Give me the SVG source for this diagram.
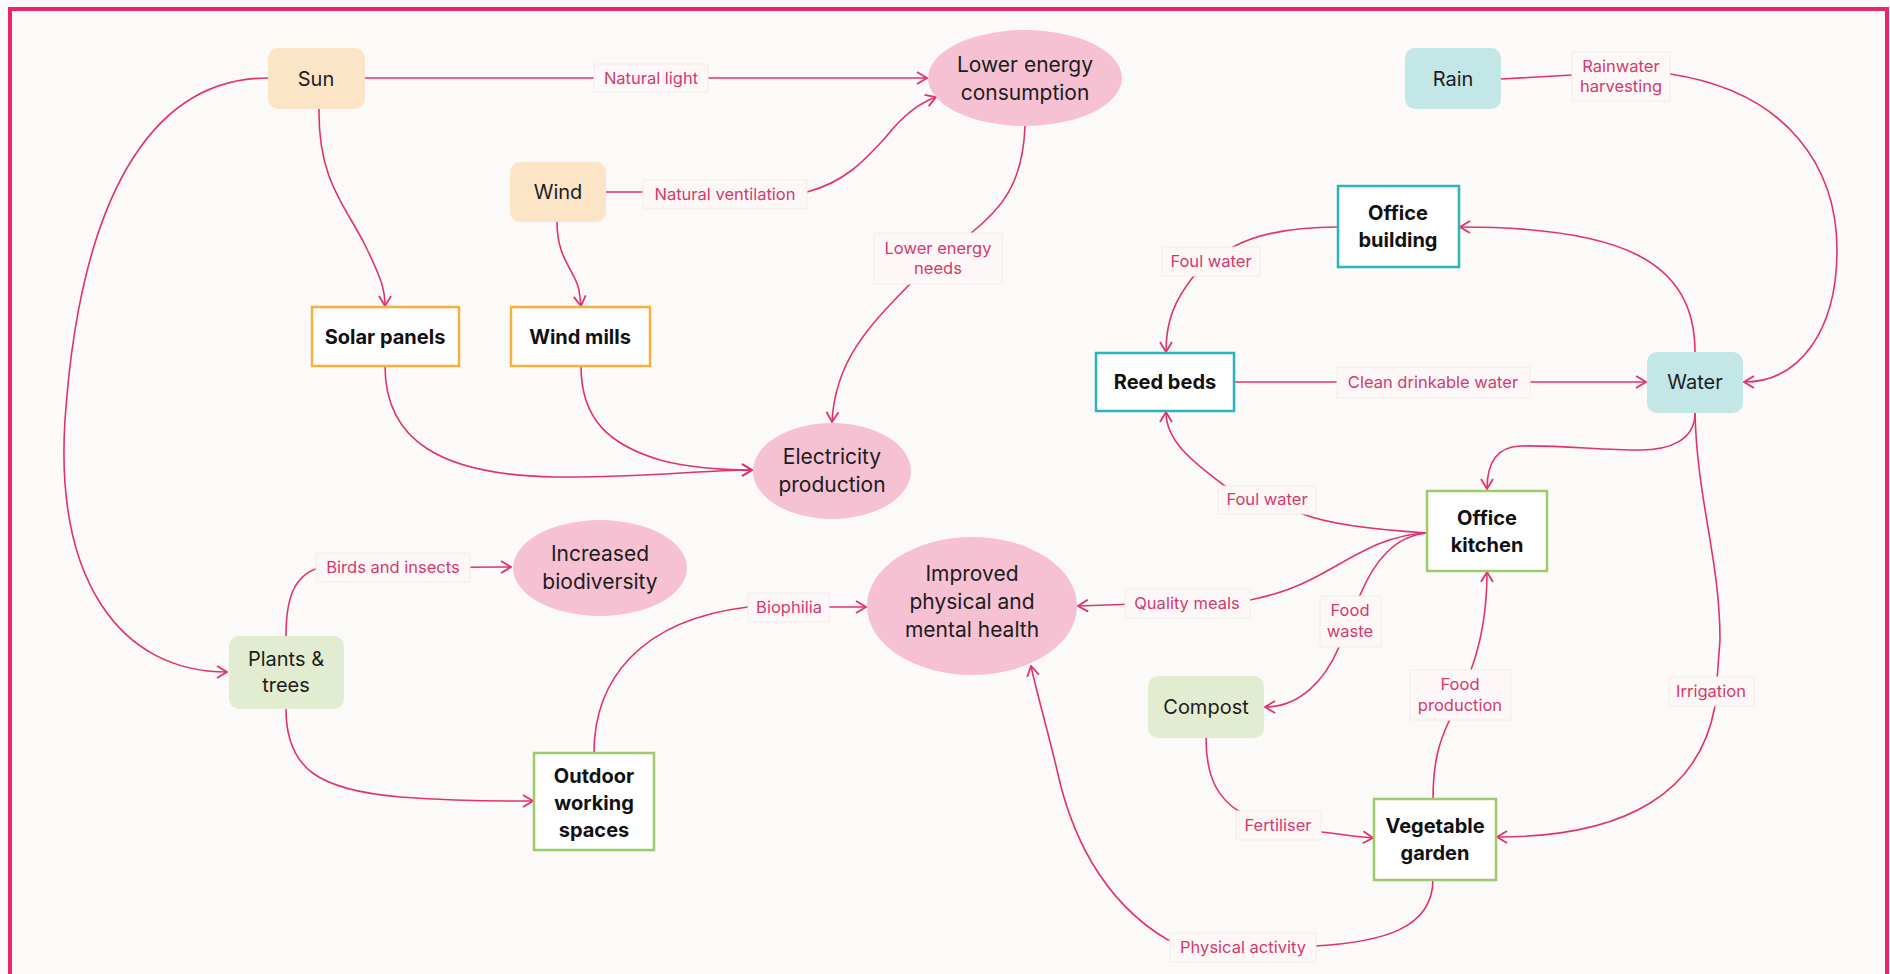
<svg xmlns="http://www.w3.org/2000/svg" width="1890" height="974" viewBox="0 0 1890 974">
<defs>
<style>
.bg{fill:#fcfaf9}
.frame{fill:none;stroke:#e8266a;stroke-width:4}
.c{fill:none;stroke:#e0336d;stroke-width:1.6}
.warm{fill:#fce4c7}
.blue{fill:#c3e6e7}
.green{fill:#e2ecd1}
.ell{fill:#f6c1d3}
.bo{fill:#ffffff;stroke:#f5b03e;stroke-width:2.5}
.bt{fill:#ffffff;stroke:#2bb3c0;stroke-width:2.5}
.bg2{fill:#ffffff;stroke:#9ccb6b;stroke-width:2.5}
.t{font-family:Inter,"Liberation Sans",sans-serif;font-size:20px;fill:#1c1c1c;text-anchor:middle;dominant-baseline:central}
.te{font-family:Inter,"Liberation Sans",sans-serif;font-size:21px;fill:#1c1c1c;text-anchor:middle;dominant-baseline:central}
.tb{font-family:Inter,"Liberation Sans",sans-serif;font-size:20px;font-weight:700;fill:#111111;text-anchor:middle;dominant-baseline:central}
.lb{fill:#fdf8f7;stroke:#f1ebea;stroke-width:1}
.lt{font-family:Inter,"Liberation Sans",sans-serif;font-size:16.5px;fill:#d33a6e;text-anchor:middle;dominant-baseline:central}
</style>
<marker id="arr" viewBox="0 0 12 14" refX="11" refY="7" markerWidth="12" markerHeight="14" markerUnits="userSpaceOnUse" orient="auto">
<path d="M1,1 L11,7 L1,13" fill="none" stroke="#e0336d" stroke-width="1.8"/>
</marker>
</defs>
<rect class="bg" x="0" y="0" width="1890" height="974"/>
<rect class="frame" x="10" y="9" width="1877" height="1000"/>

<g id="connectors">
<path class="c" d="M365,78 L927,78" marker-end="url(#arr)"/>
<path class="c" d="M319,109 C318,180 345,205 365,245 C382,280 385,290 385,306" marker-end="url(#arr)"/>
<path class="c" d="M268,78 C150,78 80,200 65,420 C55,580 120,672 227,672" marker-end="url(#arr)"/>
<path class="c" d="M606,192 L807,192 C845,182 865,160 885,138 C905,113 920,103 936,97" marker-end="url(#arr)"/>
<path class="c" d="M557,222 C557,260 575,270 579,290 L581,306" marker-end="url(#arr)"/>
<path class="c" d="M1025,126 C1023,185 1000,210 970,234 L910,284 C870,325 835,360 832,422" marker-end="url(#arr)"/>
<path class="c" d="M385,366 C385,440 440,475 555,477 C640,478 700,470 752,470" marker-end="url(#arr)"/>
<path class="c" d="M581,366 C581,420 610,445 660,460 C690,468 720,470 752,470" marker-end="url(#arr)"/>
<path class="c" d="M286,636 C286,598 294,576 318,568 L511,567" marker-end="url(#arr)"/>
<path class="c" d="M286,709 C286,770 320,790 400,797 C470,802 500,801 533,801" marker-end="url(#arr)"/>
<path class="c" d="M594,753 C594,680 640,620 748,607 L866,607" marker-end="url(#arr)"/>
<path class="c" d="M1338,227 C1290,227 1255,235 1233,247 L1193,277 C1175,300 1166,320 1166,352" marker-end="url(#arr)"/>
<path class="c" d="M1234,382 L1646,382" marker-end="url(#arr)"/>
<path class="c" d="M1695,352 C1695,260 1620,227 1460,227" marker-end="url(#arr)"/>
<path class="c" d="M1501,79 L1572,75 L1670,74 C1790,92 1837,170 1837,250 C1837,330 1800,382 1744,382" marker-end="url(#arr)"/>
<path class="c" d="M1695,413 C1695,440 1670,450 1640,450 C1600,450 1560,445 1520,446 C1495,447 1487,465 1487,489" marker-end="url(#arr)"/>
<path class="c" d="M1695,413 C1697,500 1720,560 1720,640 L1715,706 C1700,790 1630,837 1497,837" marker-end="url(#arr)"/>
<path class="c" d="M1427,533 C1380,530 1330,525 1303,514 L1225,486 C1190,460 1166,440 1166,412" marker-end="url(#arr)"/>
<path class="c" d="M1427,533 C1380,535 1350,560 1310,580 C1290,590 1270,596 1250,600 L1078,606" marker-end="url(#arr)"/>
<path class="c" d="M1427,533 C1395,536 1375,560 1360,595 L1339,647 C1325,680 1300,707 1265,707" marker-end="url(#arr)"/>
<path class="c" d="M1433,799 C1433,760 1440,740 1450,719 L1471,670 C1482,640 1487,610 1487,572" marker-end="url(#arr)"/>
<path class="c" d="M1206,738 C1206,780 1220,800 1240,812 L1322,832 C1345,835 1360,837 1373,838" marker-end="url(#arr)"/>
<path class="c" d="M1433,879 C1433,930 1380,942 1316,946 L1168,940 C1100,900 1070,830 1057,770 C1045,720 1036,690 1031,666" marker-end="url(#arr)"/>
</g>

<g id="labels">
<g id="lbl-natural-light"><rect class="lb" x="594" y="64" width="114" height="28"/><text class="lt" x="651" y="78">Natural light</text></g>
<g id="lbl-natural-ventilation"><rect class="lb" x="643" y="180" width="164" height="29"/><text class="lt" x="725" y="194">Natural ventilation</text></g>
<g id="lbl-lower-energy-needs"><rect class="lb" x="874" y="233" width="128" height="51"/><text class="lt" x="938" y="248">Lower energy</text><text class="lt" x="938" y="268">needs</text></g>
<g id="lbl-rainwater"><rect class="lb" x="1572" y="52" width="98" height="49"/><text class="lt" x="1621" y="66">Rainwater</text><text class="lt" x="1621" y="86">harvesting</text></g>
<g id="lbl-foul-water-1"><rect class="lb" x="1162" y="247" width="98" height="29"/><text class="lt" x="1211" y="261">Foul water</text></g>
<g id="lbl-clean-water"><rect class="lb" x="1337" y="367" width="193" height="31"/><text class="lt" x="1433" y="382">Clean drinkable water</text></g>
<g id="lbl-foul-water-2"><rect class="lb" x="1218" y="486" width="98" height="28"/><text class="lt" x="1267" y="499">Foul water</text></g>
<g id="lbl-quality-meals"><rect class="lb" x="1125" y="589" width="125" height="29"/><text class="lt" x="1187" y="603">Quality meals</text></g>
<g id="lbl-food-waste"><rect class="lb" x="1320" y="596" width="61" height="51"/><text class="lt" x="1350" y="610">Food</text><text class="lt" x="1350" y="631">waste</text></g>
<g id="lbl-birds"><rect class="lb" x="316" y="553" width="154" height="29"/><text class="lt" x="393" y="567">Birds and insects</text></g>
<g id="lbl-biophilia"><rect class="lb" x="748" y="593" width="81" height="29"/><text class="lt" x="789" y="607">Biophilia</text></g>
<g id="lbl-food-production"><rect class="lb" x="1410" y="670" width="101" height="50"/><text class="lt" x="1460" y="684">Food</text><text class="lt" x="1460" y="705">production</text></g>
<g id="lbl-irrigation"><rect class="lb" x="1669" y="677" width="85" height="29"/><text class="lt" x="1711" y="691">Irrigation</text></g>
<g id="lbl-fertiliser"><rect class="lb" x="1236" y="811" width="85" height="29"/><text class="lt" x="1278" y="825">Fertiliser</text></g>
<g id="lbl-physical-activity"><rect class="lb" x="1170" y="933" width="146" height="29"/><text class="lt" x="1243" y="947">Physical activity</text></g>
</g>

<g id="node-sun"><rect class="warm" x="268" y="48" width="97" height="61" rx="10"/><text class="t" x="316" y="79">Sun</text></g>
<g id="node-wind"><rect class="warm" x="510" y="162" width="96" height="60" rx="10"/><text class="t" x="558" y="192">Wind</text></g>
<g id="node-solar"><rect class="bo" x="312" y="307" width="147" height="59"/><text class="tb" x="385" y="337">Solar panels</text></g>
<g id="node-windmills"><rect class="bo" x="511" y="307" width="139" height="59"/><text class="tb" x="580" y="337">Wind mills</text></g>
<g id="node-lower-energy"><ellipse class="ell" cx="1025" cy="78" rx="97" ry="48"/><text class="te" x="1025" y="64">Lower energy</text><text class="te" x="1025" y="92">consumption</text></g>
<g id="node-electricity"><ellipse class="ell" cx="832" cy="471" rx="79" ry="48"/><text class="te" x="832" y="456">Electricity</text><text class="te" x="832" y="484">production</text></g>
<g id="node-biodiversity"><ellipse class="ell" cx="600" cy="568" rx="87" ry="48"/><text class="te" x="600" y="553">Increased</text><text class="te" x="600" y="581">biodiversity</text></g>
<g id="node-health"><ellipse class="ell" cx="972" cy="606" rx="105" ry="69"/><text class="te" x="972" y="573">Improved</text><text class="te" x="972" y="601">physical and</text><text class="te" x="972" y="629">mental health</text></g>
<g id="node-plants"><rect class="green" x="229" y="636" width="115" height="73" rx="10"/><text class="t" x="286" y="659">Plants &amp;</text><text class="t" x="286" y="685">trees</text></g>
<g id="node-outdoor"><rect class="bg2" x="534" y="753" width="120" height="97"/><text class="tb" x="594" y="776">Outdoor</text><text class="tb" x="594" y="803">working</text><text class="tb" x="594" y="830">spaces</text></g>
<g id="node-reed"><rect class="bt" x="1096" y="353" width="138" height="58"/><text class="tb" x="1165" y="382">Reed beds</text></g>
<g id="node-office-building"><rect class="bt" x="1338" y="186" width="121" height="81"/><text class="tb" x="1398" y="213">Office</text><text class="tb" x="1398" y="240">building</text></g>
<g id="node-rain"><rect class="blue" x="1405" y="48" width="96" height="61" rx="10"/><text class="t" x="1453" y="79">Rain</text></g>
<g id="node-water"><rect class="blue" x="1647" y="352" width="96" height="61" rx="10"/><text class="t" x="1695" y="382">Water</text></g>
<g id="node-kitchen"><rect class="bg2" x="1427" y="491" width="120" height="80"/><text class="tb" x="1487" y="518">Office</text><text class="tb" x="1487" y="545">kitchen</text></g>
<g id="node-compost"><rect class="green" x="1148" y="676" width="116" height="62" rx="10"/><text class="t" x="1206" y="707">Compost</text></g>
<g id="node-garden"><rect class="bg2" x="1374" y="799" width="122" height="81"/><text class="tb" x="1435" y="826">Vegetable</text><text class="tb" x="1435" y="853">garden</text></g>
</svg>
